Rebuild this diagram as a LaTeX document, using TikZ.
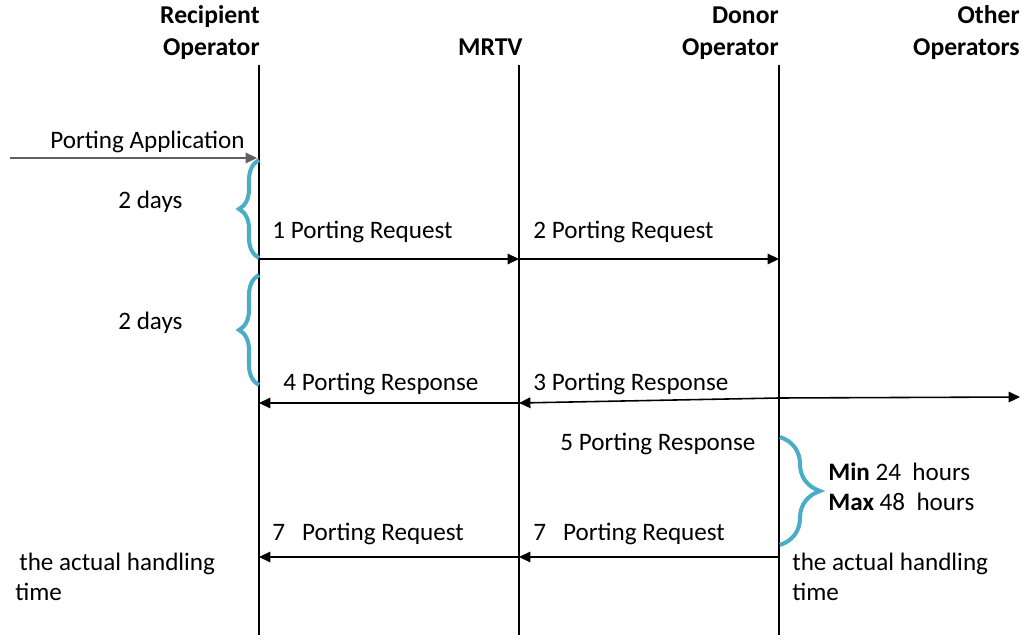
\documentclass[tikz,border=0pt]{standalone}
\usepackage{fontspec}
\setmainfont{Carlito}
\usetikzlibrary{decorations.pathreplacing,arrows.meta}
\definecolor{bracecol}{RGB}{75,172,198}
\tikzset{
	lifeline/.style={line width=0.8pt},
	msg/.style={line width=0.9pt, -{Triangle[length=6.5pt,width=6pt]}},
	timebrace/.style={bracecol, line width=2.3pt, decorate, decoration={brace, amplitude=#1}},
	head/.style={font=\fontsize{14.6}{17}\selectfont\bfseries, anchor=base east, inner sep=0pt},
	lbl/.style={anchor=base west, inner sep=0pt}
}

\begin{document}
\begin{tikzpicture}[x=0.02cm, y=-0.02cm, font=\fontsize{14.3}{17}\selectfont]
		\useasboundingbox (0,0) rectangle (1022,635);
		% headers
		\node[head] (rechead1) at (260,24) {Recipient};
		\node[head] (rechead2) at (260,56) {Operator};
		\node[head] (mrtvhead) at (523,56) {MRTV};
		\node[head] (donhead1) at (779,24) {Donor};
		\node[head] (donhead2) at (779,56) {Operator};
		\node[head] (othhead1) at (1020,24) {Other};
		\node[head] (othhead2) at (1020,56) {Operators};
		% lifelines
		\foreach \n/\x in {rec/259, mrtv/519, don/779}{
			\draw[lifeline] (\x,65) coordinate (\n top) -- (\x,635) coordinate (\n bot);
		}
		% porting application
		\coordinate (appstart) at (10,158);
		\coordinate (append) at (257,158);
		\draw[msg, gray!75!black] (appstart) -- (append);
		\node[anchor=base east, inner sep=0pt] (applbl) at (245,149) {Porting Application};
		% requests
		\coordinate (rec1) at (259,259);
		\coordinate (mrtv1) at (519,259);
		\coordinate (don1) at (779,259);
		\draw[msg] (rec1) -- (mrtv1);
		\draw[msg] (mrtv1) -- (don1);
		\node[lbl] (req1) at (272,238) {1 Porting Request};
		\node[lbl] (req2) at (533,238) {2 Porting Request};
		% responses
		\coordinate (don3) at (779,398);
		\coordinate (mrtv3) at (519,403);
		\coordinate (rec4) at (259,403);
		\coordinate (oth3) at (1020,397);
		\draw[msg] (don3) -- (mrtv3);
		\draw[msg] (mrtv3) -- (rec4);
		\draw[msg] (don3) -- (oth3);
		\node[lbl] (resp4) at (283,390) {4 Porting Response};
		\node[lbl] (resp3) at (533,390) {3 Porting Response};
		\node[lbl] (resp5) at (560,450) {5 Porting Response};
		% second requests
		\coordinate (don7) at (779,557);
		\coordinate (mrtv7) at (519,557);
		\coordinate (rec7) at (259,557);
		\draw[msg] (don7) -- (mrtv7);
		\draw[msg] (mrtv7) -- (rec7);
		\node[lbl] (req7a) at (272,540) {7\ \ \ Porting Request};
		\node[lbl] (req7b) at (533,540) {7\ \ \ Porting Request};
		% time braces
		\draw[timebrace=0.4cm] (259,258) -- (259,160);
		\node[lbl] (days1) at (118,209) {2 days};
		\draw[timebrace=0.4cm] (259,385) -- (259,275);
		\node[lbl] (days2) at (118,329) {2 days};
		\draw[timebrace=0.8cm] (780,437) -- (780,545);
		\node[lbl] (minh) at (828,480) {\textbf{Min} 24 \ hours};
		\node[lbl] (maxh) at (828,510) {\textbf{Max} 48 \ hours};
		% handling time
		\node[lbl] (lefttime1) at (19,570) {the actual handling};
		\node[lbl] (lefttime2) at (15,600) {time};
		\node[lbl] (righttime1) at (792,570) {the actual handling};
		\node[lbl] (righttime2) at (792,600) {time};
	\end{tikzpicture}
\end{document}
